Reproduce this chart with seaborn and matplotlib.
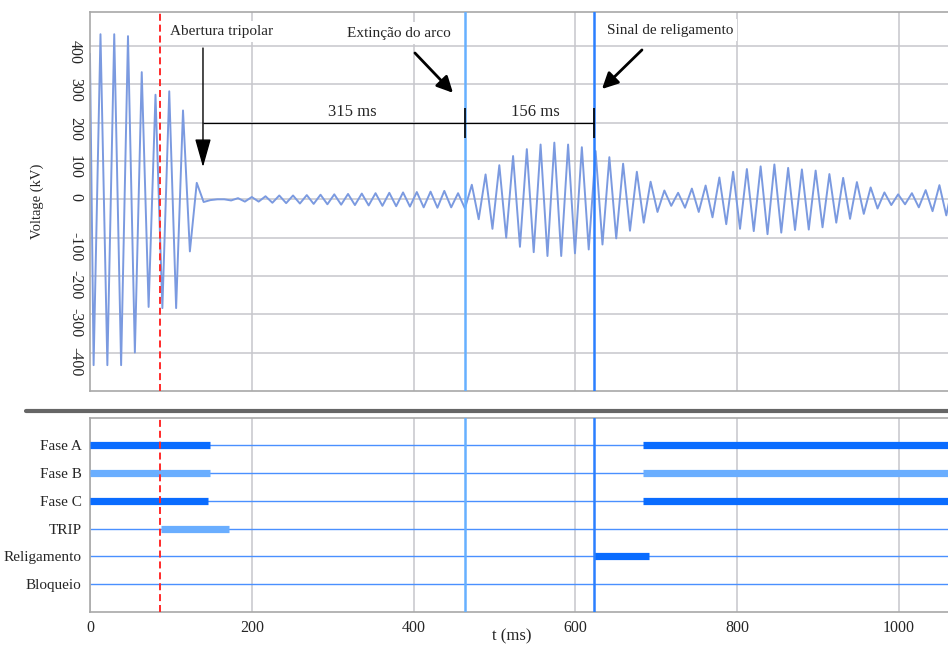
import numpy as np
import pandas as pd
import matplotlib
matplotlib.use('Agg')
import matplotlib.pyplot as plt
from matplotlib.lines import Line2D
import seaborn as sns

# voltage waveform: value at t=0, then one extremum every half cycle (kV)
v_start = 380
v_peaks = [-433, 431, -433, 431, -433, 426, -400, 332, -281, 273,
           -284, 282, -284, 232, -136, 43, -7, -2, 0, 0,
           -3, 3, -6, 6, -6, 8, -9, 10, -10, 10,
           -11, 11, -12, 12, -13, 13, -14, 14, -15, 15,
           -16, 16, -17, 17, -18, 18, -19, 19, -21, 20,
           -22, 22, -21, 16, -24, 38, -52, 65, -77, 89,
           -100, 113, -124, 131, -138, 143, -148, 148, -148, 143,
           -141, 136, -131, 126, -118, 110, -102, 93, -82, 72,
           -61, 46, -33, 23, -17, 17, -22, 28, -33, 36,
           -47, 57, -65, 72, -77, 79, -83, 86, -91, 91,
           -87, 82, -80, 78, -79, 75, -73, 66, -61, 56,
           -51, 45, -38, 31, -24, 18, -15, 13, -13, 16,
           -21, 24, -31, 37, -42, 45]
t_first = 4.5      # ms, first extremum
half_cycle = 8.5   # ms between extrema

# events (ms)
t_trip = 86.5
t_abertura = 139.7
t_extincao = 463.5
t_religamento = 623

# digital signals: (start, end) in ms
rows = ['Fase A', 'Fase B', 'Fase C', 'TRIP', 'Religamento', 'Bloqueio']
fase_a_on = [(0, 148), (684, 1100)]
fase_b_on = [(0, 148), (684, 1100)]
fase_c_on = [(0, 146), (684, 1100)]
trip_on = [(88, 172)]
relig_on = [(623, 691)]
bloq_on = []

x_max = 1060.6
dark = '#0a6cff'
light = '#6aaeff'
grid_c = '#c6c6cc'
spine_c = '#a8a8a8'

sns.set_theme(style='white')
plt.rcParams['font.family'] = ['Liberation Serif', 'DejaVu Serif']
plt.rcParams['axes.unicode_minus'] = False

t_wave = np.concatenate([[0.0], t_first + half_cycle * np.arange(len(v_peaks))])
v_wave = np.concatenate([[v_start], v_peaks])
df = pd.DataFrame({'t': t_wave, 'v': v_wave})

fig = plt.figure(figsize=(9.48, 6.46), dpi=100)
ax1 = fig.add_axes([0.0949, 0.395, 0.9051, 0.587])
ax2 = fig.add_axes([0.0949, 0.0531, 0.9051, 0.3003])

# ---- top panel: voltage
sns.lineplot(data=df, x='t', y='v', ax=ax1, color='#7b9ae0', linewidth=1.4,
             estimator=None, sort=False, zorder=2)
ax1.set_xlim(0, x_max)
ax1.set_ylim(-500, 490)
ax1.set_xticks(range(200, 1001, 200))
ax1.set_yticks(range(-400, 401, 100))
ax1.grid(True, color=grid_c, lw=1.1)
ax1.tick_params(axis='x', labelbottom=False, length=0)
ax1.tick_params(axis='y', length=0, pad=5, labelsize=11.5, labelrotation=-90)
ax1.set_xlabel('')
ax1.set_ylabel('Voltage (kV)', fontsize=10.5)
ax1.yaxis.set_label_coords(-0.053, 0.5)

ax1.axvline(t_trip, color='#ff2a2a', lw=1.4, dashes=(3.6, 2), zorder=4)
ax1.axvline(t_extincao, color='#66b0ff', lw=1.8, zorder=3)
ax1.axvline(t_religamento, color='#2a7fff', lw=1.8, zorder=3)

# dimension lines
ax1.hlines(200, t_abertura, t_religamento, color='black', lw=0.9, zorder=5)
ax1.vlines([t_extincao, t_religamento], 160, 238, color='black', lw=1.2, zorder=5)
ax1.text(324, 228, '315 ms', ha='center', va='center', fontsize=12, zorder=6)
ax1.text(551, 228, '156 ms', ha='center', va='center', fontsize=12, zorder=6)

box = dict(facecolor='white', edgecolor='none', pad=3)
ax1.text(99, 438, 'Abertura tripolar', ha='left', va='center', fontsize=11, bbox=box, zorder=6)
ax1.annotate('', xy=(t_abertura, 84), xytext=(t_abertura, 395),
             arrowprops=dict(arrowstyle='-|>,head_length=1.6,head_width=0.45',
                             mutation_scale=11, color='black', lw=1.0,
                             shrinkA=0, shrinkB=0), zorder=6)

ax1.text(381.6, 434, 'Extinção do arco', ha='center', va='center', fontsize=11, bbox=box, zorder=6)
ax1.annotate('', xy=(448.7, 278), xytext=(401.7, 382),
             arrowprops=dict(arrowstyle='-|>,head_length=0.8,head_width=0.4',
                             mutation_scale=12, color='black', lw=2.0,
                             shrinkA=0, shrinkB=0), zorder=6)

ax1.text(638.7, 442, 'Sinal de religamento', ha='left', va='center', fontsize=11, bbox=box, zorder=6)
ax1.annotate('', xy=(632.9, 288), xytext=(682.3, 390),
             arrowprops=dict(arrowstyle='-|>,head_length=0.8,head_width=0.4',
                             mutation_scale=12, color='black', lw=2.0,
                             shrinkA=0, shrinkB=0), zorder=6)

# ---- bottom panel: digital signals
signals = [(fase_a_on, dark), (fase_b_on, light), (fase_c_on, dark),
           (trip_on, light), (relig_on, dark), (bloq_on, dark)]
for i, (segments, c) in enumerate(signals):
    ax2.hlines(i, 0, x_max, color='#4a90ff', lw=1.0, zorder=2)
    for start, end in segments:
        ax2.hlines(i, start, end, color=c, lw=5.2, zorder=3)

ax2.set_xlim(0, x_max)
ax2.set_ylim(6, -1)
ax2.set_yticks(range(len(rows)))
ax2.set_yticklabels(rows)
ax2.set_xticks(range(0, 1001, 200))
ax2.grid(True, axis='x', color=grid_c, lw=1.1)
ax2.tick_params(axis='both', length=0, labelsize=11.5)
ax2.tick_params(axis='y', labelsize=11, pad=6)
ax2.tick_params(axis='x', pad=6)
ax2.set_xlabel('t (ms)', fontsize=12)
ax2.xaxis.set_label_coords(0.492, -0.085)
ax2.xaxis.label.set_va('top')

ax2.axvline(t_trip, color='#ff2a2a', lw=1.4, dashes=(3.6, 2), zorder=4)
ax2.axvline(t_extincao, color='#66b0ff', lw=1.8, zorder=4)
ax2.axvline(t_religamento, color='#2a7fff', lw=1.8, zorder=4)

for ax in (ax1, ax2):
    for s in ax.spines.values():
        s.set_color(spine_c)
        s.set_linewidth(1.2)
    ax.spines['right'].set_visible(False)

# separator between panels
fig.add_artist(Line2D([0.0274, 1.0], [0.3643, 0.3643], color='#666666', lw=3,
                      transform=fig.transFigure))

fig.savefig('out.png', dpi=100)
